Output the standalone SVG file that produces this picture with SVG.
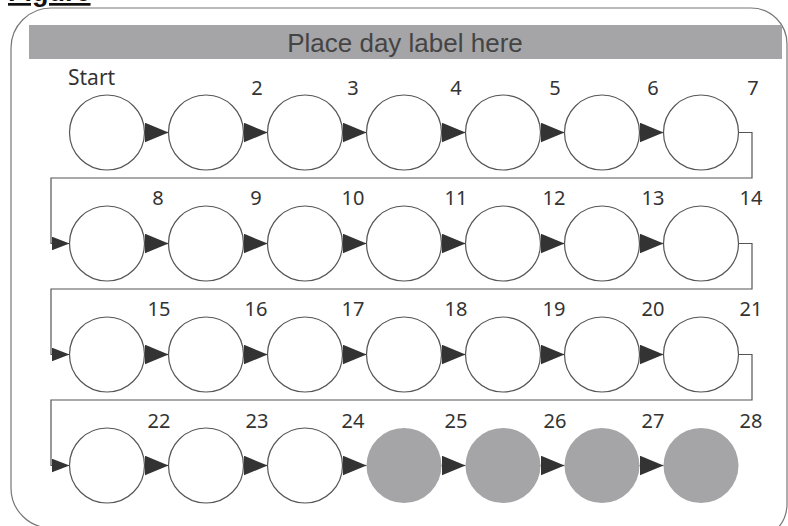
<svg xmlns="http://www.w3.org/2000/svg" width="788" height="526" viewBox="0 0 788 526">
<style>
.day{fill:#ffffff;stroke:#555;stroke-width:1.2}
.done{fill:#a5a5a8;stroke:none}
.lbl{font-family:"Noto Sans","Liberation Sans",sans-serif;font-size:20px;fill:#333;text-anchor:middle}
.start{font-family:"Noto Sans","Liberation Sans",sans-serif;font-size:21px;fill:#333}
.c{fill:none;stroke:#555;stroke-width:1.2}
.arr{marker-end:url(#tri)}
.arrs{marker-end:url(#tris)}
</style>
<defs>
<marker id="tri" markerUnits="userSpaceOnUse" markerWidth="24" markerHeight="20" refX="24" refY="10" orient="auto">
<path d="M0,0 L24,10 L0,20 Z" fill="#333"/>
</marker>
<marker id="tris" markerUnits="userSpaceOnUse" markerWidth="18" markerHeight="14" refX="18" refY="7" orient="auto">
<path d="M0,0 L18,7 L0,14 Z" fill="#333"/>
</marker>
</defs>
<rect width="788" height="526" fill="#ffffff"/>
<text x="8" y="1" font-family="Liberation Sans, Arial, sans-serif" font-size="27" font-weight="bold" fill="#111" text-decoration="underline">Figure</text>
<path d="M11,48 A40 40 0 0 1 51,8 H751 A36 36 0 0 1 787,44 V504 A36 36 0 0 1 751,540 L51,528 A40 40 0 0 1 11,488 Z" fill="none" stroke="#777" stroke-width="1.2"/>
<g id="header">
<rect x="29" y="25" width="753" height="34" fill="#a5a5a8"/>
<text x="405" y="52" font-family="Liberation Sans, Arial, sans-serif" font-size="26" fill="#444" text-anchor="middle">Place day label here</text>
</g>
<g id="connectors">
<path class="c arr" d="M144.5,132.5 H168.5"/>
<path class="c arr" d="M243.5,132.5 H267.5"/>
<path class="c arr" d="M342.5,132.5 H366.5"/>
<path class="c arr" d="M441.5,132.5 H465.5"/>
<path class="c arr" d="M540.5,132.5 H564.5"/>
<path class="c arr" d="M639.5,132.5 H663.5"/>
<path class="c arrs" d="M738.5,132.5 H752 V178 H51 V243.5 H69.5"/>
<path class="c arr" d="M144.5,243.5 H168.5"/>
<path class="c arr" d="M243.5,243.5 H267.5"/>
<path class="c arr" d="M342.5,243.5 H366.5"/>
<path class="c arr" d="M441.5,243.5 H465.5"/>
<path class="c arr" d="M540.5,243.5 H564.5"/>
<path class="c arr" d="M639.5,243.5 H663.5"/>
<path class="c arrs" d="M738.5,243.5 H752 V289 H51 V354.5 H69.5"/>
<path class="c arr" d="M144.5,354.5 H168.5"/>
<path class="c arr" d="M243.5,354.5 H267.5"/>
<path class="c arr" d="M342.5,354.5 H366.5"/>
<path class="c arr" d="M441.5,354.5 H465.5"/>
<path class="c arr" d="M540.5,354.5 H564.5"/>
<path class="c arr" d="M639.5,354.5 H663.5"/>
<path class="c arrs" d="M738.5,354.5 H752 V400 H51 V465.5 H69.5"/>
<path class="c arr" d="M144.5,465.5 H168.5"/>
<path class="c arr" d="M243.5,465.5 H267.5"/>
<path class="c arr" d="M342.5,465.5 H366.5"/>
<path class="c arr" d="M441.5,465.5 H465.5"/>
<path class="c arr" d="M540.5,465.5 H564.5"/>
<path class="c arr" d="M639.5,465.5 H663.5"/>
</g>
<g id="day1"><circle class="day" cx="107" cy="132.5" r="37.5"/><text class="start" x="68" y="85">Start</text></g>
<g id="day2"><circle class="day" cx="206" cy="132.5" r="37.5"/><text class="lbl" x="257" y="95">2</text></g>
<g id="day3"><circle class="day" cx="305" cy="132.5" r="37.5"/><text class="lbl" x="353" y="95">3</text></g>
<g id="day4"><circle class="day" cx="404" cy="132.5" r="37.5"/><text class="lbl" x="456" y="95">4</text></g>
<g id="day5"><circle class="day" cx="503" cy="132.5" r="37.5"/><text class="lbl" x="555" y="95">5</text></g>
<g id="day6"><circle class="day" cx="602" cy="132.5" r="37.5"/><text class="lbl" x="653" y="95">6</text></g>
<g id="day7"><circle class="day" cx="701" cy="132.5" r="37.5"/><text class="lbl" x="753" y="95">7</text></g>
<g id="day8"><circle class="day" cx="107" cy="243.5" r="37.5"/><text class="lbl" x="158" y="205">8</text></g>
<g id="day9"><circle class="day" cx="206" cy="243.5" r="37.5"/><text class="lbl" x="256" y="205">9</text></g>
<g id="day10"><circle class="day" cx="305" cy="243.5" r="37.5"/><text class="lbl" x="353" y="205">10</text></g>
<g id="day11"><circle class="day" cx="404" cy="243.5" r="37.5"/><text class="lbl" x="456" y="205">11</text></g>
<g id="day12"><circle class="day" cx="503" cy="243.5" r="37.5"/><text class="lbl" x="554" y="205">12</text></g>
<g id="day13"><circle class="day" cx="602" cy="243.5" r="37.5"/><text class="lbl" x="653" y="205">13</text></g>
<g id="day14"><circle class="day" cx="701" cy="243.5" r="37.5"/><text class="lbl" x="751" y="205">14</text></g>
<g id="day15"><circle class="day" cx="107" cy="354.5" r="37.5"/><text class="lbl" x="159" y="316">15</text></g>
<g id="day16"><circle class="day" cx="206" cy="354.5" r="37.5"/><text class="lbl" x="256" y="316">16</text></g>
<g id="day17"><circle class="day" cx="305" cy="354.5" r="37.5"/><text class="lbl" x="353" y="316">17</text></g>
<g id="day18"><circle class="day" cx="404" cy="354.5" r="37.5"/><text class="lbl" x="456" y="316">18</text></g>
<g id="day19"><circle class="day" cx="503" cy="354.5" r="37.5"/><text class="lbl" x="554" y="316">19</text></g>
<g id="day20"><circle class="day" cx="602" cy="354.5" r="37.5"/><text class="lbl" x="653" y="316">20</text></g>
<g id="day21"><circle class="day" cx="701" cy="354.5" r="37.5"/><text class="lbl" x="751" y="316">21</text></g>
<g id="day22"><circle class="day" cx="107" cy="465.5" r="37.5"/><text class="lbl" x="159" y="428">22</text></g>
<g id="day23"><circle class="day" cx="206" cy="465.5" r="37.5"/><text class="lbl" x="257" y="428">23</text></g>
<g id="day24"><circle class="day" cx="305" cy="465.5" r="37.5"/><text class="lbl" x="353" y="428">24</text></g>
<g id="day25"><circle class="done" cx="404" cy="465.5" r="37.5"/><text class="lbl" x="456" y="428">25</text></g>
<g id="day26"><circle class="done" cx="503" cy="465.5" r="37.5"/><text class="lbl" x="555" y="428">26</text></g>
<g id="day27"><circle class="done" cx="602" cy="465.5" r="37.5"/><text class="lbl" x="653" y="428">27</text></g>
<g id="day28"><circle class="done" cx="701" cy="465.5" r="37.5"/><text class="lbl" x="751" y="428">28</text></g>
</svg>
